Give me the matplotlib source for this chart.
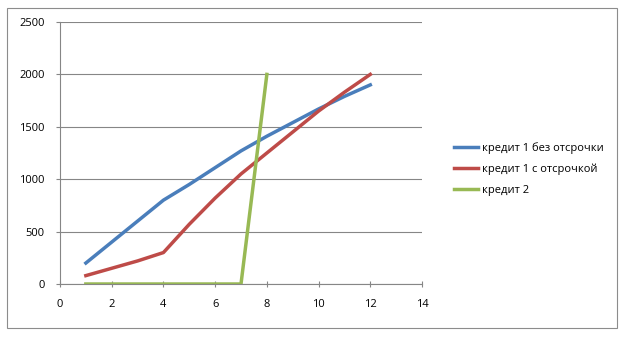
import matplotlib
matplotlib.use('Agg')
import matplotlib.pyplot as plt
from matplotlib.patches import Rectangle

# data
months = [1, 2, 3, 4, 5, 6, 7, 8, 9, 10, 11, 12]
no_delay = [200, 400, 600, 800, 950, 1110, 1270, 1410, 1540, 1670, 1790, 1900]
with_delay = [80, 150, 220, 300, 570, 820, 1050, 1250, 1450, 1650, 1830, 2000]
months2 = [1, 2, 3, 4, 5, 6, 7, 8]
credit2 = [0, 0, 0, 0, 0, 0, 0, 2000]

labels = ['кредит 1 без отсрочки', 'кредит 1 с отсрочкой', 'кредит 2']
colors = ['#4a7ebb', '#be4b48', '#98b954']

plt.rcParams['font.family'] = ['Open Sans', 'DejaVu Sans']

fig = plt.figure(figsize=(6.28, 3.39), dpi=100)
fig.patches.append(Rectangle((7 / 628, 1 - 328 / 339), 610 / 628, 320 / 339,
                             transform=fig.transFigure, fill=False,
                             edgecolor='#8c8c8c', linewidth=0.8))

ax = fig.add_axes([60 / 628, 1 - 284 / 339, 362 / 628, 262 / 339])
ax.plot(months, no_delay, color=colors[0], linewidth=2.5, label=labels[0])
ax.plot(months, with_delay, color=colors[1], linewidth=2.5, label=labels[1])
ax.plot(months2, credit2, color=colors[2], linewidth=2.5, label=labels[2])

ax.set_xlim(0, 14)
ax.set_ylim(0, 2500)
ax.set_xticks(range(0, 15, 2))
ax.set_yticks(range(0, 2501, 500))
ax.grid(axis='y', color='#868686', linewidth=0.8)
ax.set_axisbelow(True)
for s in ['top', 'right']:
    ax.spines[s].set_visible(False)
for s in ['left', 'bottom']:
    ax.spines[s].set_color('#868686')
    ax.spines[s].set_linewidth(0.8)
ax.tick_params(axis='both', colors='#868686', labelcolor='black',
               labelsize=8, length=3, width=0.8)
ax.tick_params(axis='y', pad=8)
ax.tick_params(axis='x', direction='inout', length=4, pad=9)

fig.legend(loc='upper left', bbox_to_anchor=(444 / 628, 1 - 132 / 339),
           frameon=False, fontsize=8, handlelength=2.2, handletextpad=0.3,
           labelspacing=0.9)

fig.savefig('out.png', dpi=100)
